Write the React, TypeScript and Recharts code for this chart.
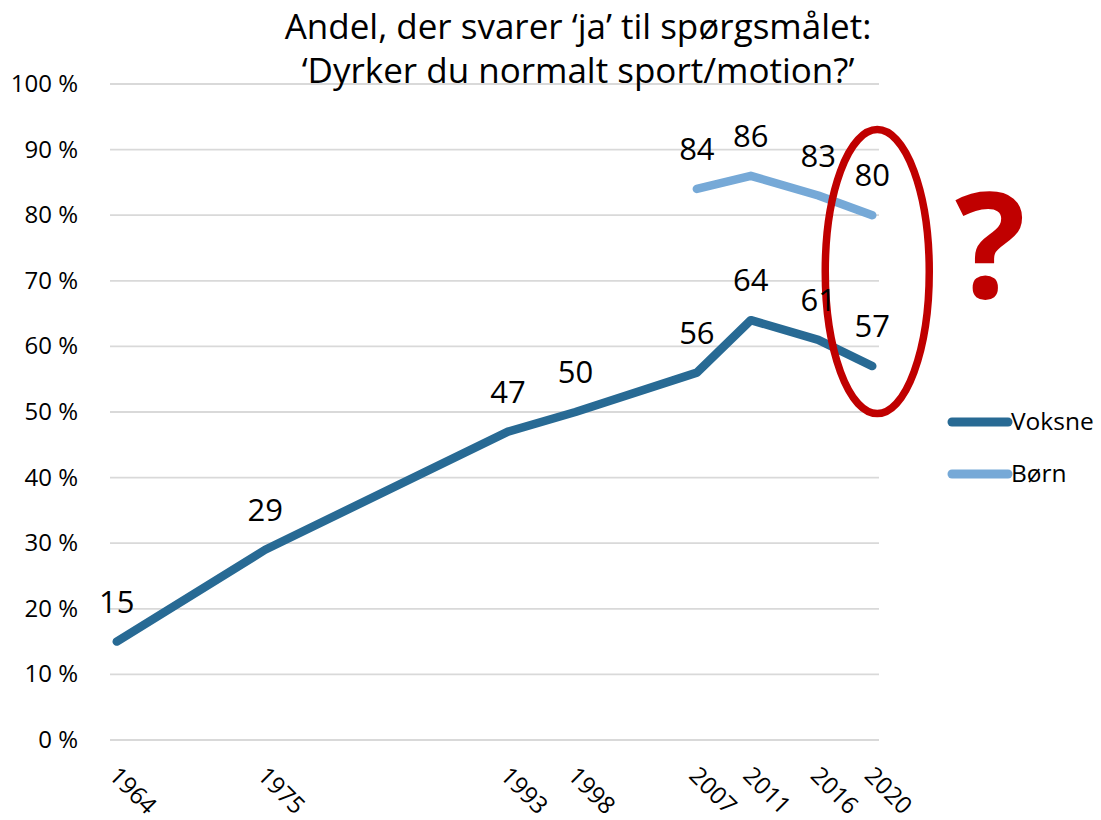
import React from "react";
import {
  LineChart,
  Line,
  XAxis,
  YAxis,
  CartesianGrid,
  LabelList,
  Legend,
  ReferenceDot,
} from "recharts";

const years = [1964, 1975, 1993, 1998, 2007, 2011, 2016, 2020];
const voksne = [15, 29, 47, 50, 56, 64, 61, 57];
const born: (number | null)[] = [null, null, null, null, 84, 86, 83, 80];
const yTicks = [0, 10, 20, 30, 40, 50, 60, 70, 80, 90, 100];
const titleLines = [
  "Andel, der svarer \u2018ja\u2019 til spørgsmålet:",
  "\u2018Dyrker du normalt sport/motion?\u2019",
];
// highlighted year (ellipse) and its vertical centre in %
const highlight = { year: 2020, value: 71.4 };

const VOKSNE_COLOR = "#286A94";
const BORN_COLOR = "#76A9D7";
const FONT = "'Open Sans', 'Noto Sans', sans-serif";

const data = years.map((y, i) => ({
  year: y,
  Voksne: voksne[i],
  Børn: born[i],
}));

function YearTick({ x, y, payload }: any) {
  const ax = x - 9;
  const ay = y + 29;
  return (
    <text
      x={ax}
      y={ay}
      transform={`rotate(45 ${ax} ${ay})`}
      textAnchor="start"
      fontSize={24}
      fontFamily={FONT}
      fill="#000"
    >
      {payload.value}
    </text>
  );
}

function PctTick({ x, y, payload }: any) {
  return (
    <text
      x={x}
      y={y + 8}
      textAnchor="end"
      fontSize={24}
      fontFamily={FONT}
      fill="#000"
    >
      {`${payload.value} %`}
    </text>
  );
}

function HighlightShape({ cx, cy }: any) {
  if (cx == null || cy == null) return null;
  return (
    <g>
      <ellipse
        cx={cx + 5}
        cy={cy}
        rx={52}
        ry={142}
        fill="none"
        stroke="#C00000"
        strokeWidth={7.5}
      />
      <text
        x={cx + 118}
        y={cy + 26}
        textAnchor="middle"
        fontSize={148}
        fontWeight={700}
        fontFamily={FONT}
        fill="#C00000"
      >
        ?
      </text>
    </g>
  );
}

function LegendContent() {
  const items = [
    { name: "Voksne", color: VOKSNE_COLOR },
    { name: "Børn", color: BORN_COLOR },
  ];
  return (
    <svg width={160} height={100} style={{ display: "block" }}>
      {items.map((it, i) => (
        <g key={it.name} transform={`translate(0 ${i * 52})`}>
          <line
            x1={10}
            x2={66}
            y1={18}
            y2={18}
            stroke={it.color}
            strokeWidth={9}
            strokeLinecap="round"
          />
          <text x={69} y={26} fontSize={24.5} fontFamily={FONT} fill="#000">
            {it.name}
          </text>
        </g>
      ))}
    </svg>
  );
}

export default function App() {
  return (
    <div style={{ position: "absolute", left: 0, top: 0, width: 1101, height: 820, background: "#fff" }}>
      <LineChart
        width={1101}
        height={820}
        data={data}
        margin={{ top: 84, right: 222, bottom: 0, left: 0 }}
      >
        <CartesianGrid vertical={false} stroke="#D9D9D9" strokeWidth={1.8} />
        <XAxis
          dataKey="year"
          type="number"
          domain={[1963.5, 2020.5]}
          ticks={years}
          interval={0}
          axisLine={false}
          tickLine={false}
          height={80}
          tick={<YearTick />}
        />
        <YAxis
          domain={[0, 100]}
          ticks={yTicks}
          interval={0}
          width={110}
          axisLine={false}
          tickLine={false}
          tickMargin={26}
          tick={<PctTick />}
        />
        <Legend
          layout="horizontal"
          verticalAlign="middle"
          align="center"
          content={<LegendContent />}
          wrapperStyle={{ left: 942, top: 404, width: 160 }}
        />
        <Line
          type="linear"
          dataKey="Voksne"
          stroke={VOKSNE_COLOR}
          strokeWidth={8.5}
          strokeLinecap="round"
          strokeLinejoin="round"
          dot={false}
          activeDot={false}
          isAnimationActive={false}
        >
          <LabelList
            dataKey="Voksne"
            position="top"
            offset={29}
            fontSize={31}
            fontFamily={FONT}
            fill="#000"
          />
        </Line>
        <Line
          type="linear"
          dataKey="Børn"
          stroke={BORN_COLOR}
          strokeWidth={8.5}
          strokeLinecap="round"
          strokeLinejoin="round"
          dot={false}
          activeDot={false}
          isAnimationActive={false}
        >
          <LabelList
            dataKey="Børn"
            position="top"
            offset={29}
            fontSize={31}
            fontFamily={FONT}
            fill="#000"
          />
        </Line>
        <ReferenceDot
          x={highlight.year}
          y={highlight.value}
          ifOverflow="visible"
          shape={<HighlightShape />}
        />
      </LineChart>
      <svg
        width={1101}
        height={100}
        style={{ position: "absolute", left: 0, top: 0, pointerEvents: "none" }}
      >
        {titleLines.map((t, i) => (
          <text
            key={i}
            x={578}
            y={39 + i * 44}
            textAnchor="middle"
            fontSize={35}
            fontFamily={FONT}
            fill="#000"
          >
            {t}
          </text>
        ))}
      </svg>
    </div>
  );
}
